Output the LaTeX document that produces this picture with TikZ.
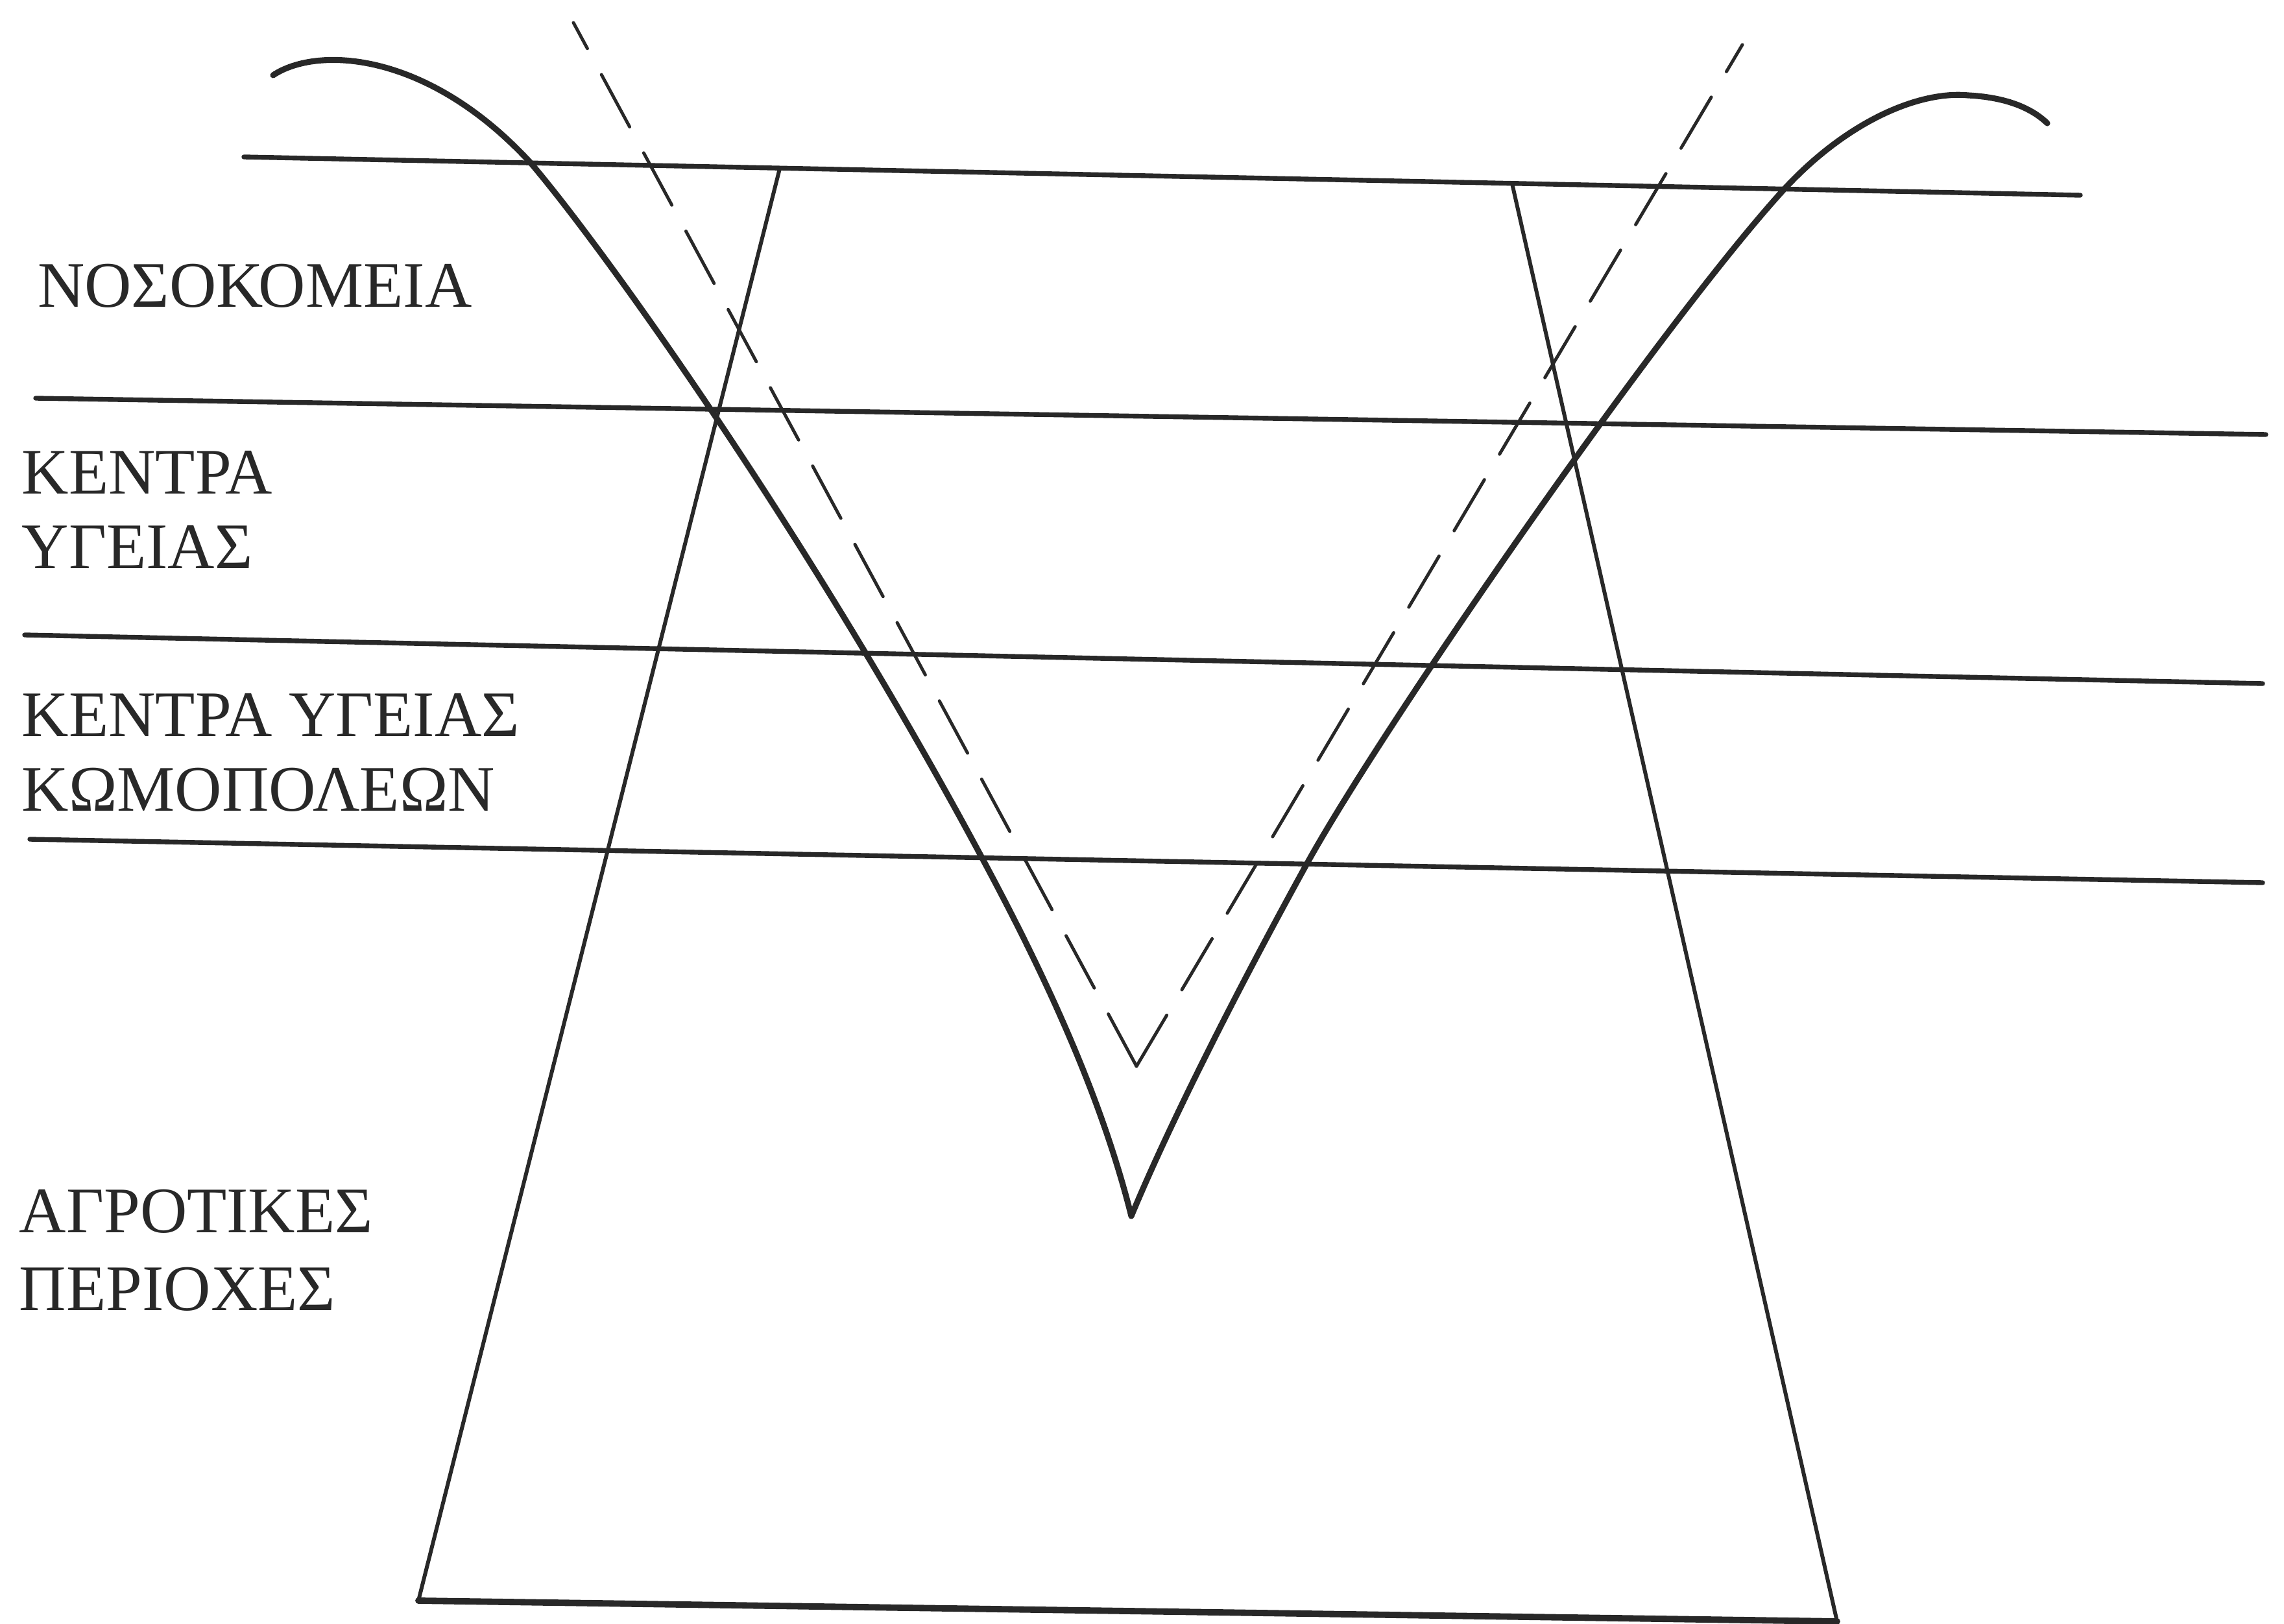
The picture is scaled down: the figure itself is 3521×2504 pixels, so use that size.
\documentclass[tikz,border=0pt]{standalone}
\usepackage{fontspec}
\setmainfont{Liberation Serif}
\definecolor{ink}{RGB}{40,40,40}
\begin{document}
\begin{tikzpicture}[x=0.01cm,y=-0.01cm,
  hline/.style={draw=ink,line width=2.1pt,line cap=round},
  sideline/.style={draw=ink,line width=1.7pt,line cap=round},
  baseline/.style={draw=ink,line width=2.8pt,line cap=round},
  bell/.style={draw=ink,line width=2.6pt,line cap=round,line join=round},
  dashv/.style={draw=ink,line width=1.4pt,line cap=round,dash pattern=on 26pt off 13pt},
  lbl/.style={anchor=base west,inner sep=0pt,outer sep=0pt,text=ink,font=\fontsize{28.5pt}{33pt}\selectfont}]
\useasboundingbox (0,0) rectangle (3521,2504);
% horizontal level lines
\coordinate (L1a) at (376,242);  \coordinate (L1b) at (3207,301);
\coordinate (L2a) at (55,614);   \coordinate (L2b) at (3493,670);
\coordinate (L3a) at (38,979);   \coordinate (L3b) at (3488,1054);
\coordinate (L4a) at (46,1294);  \coordinate (L4b) at (3488,1361);
\draw[hline] (L1a) -- (L1b);
\draw[hline] (L2a) -- (L2b);
\draw[hline] (L3a) -- (L3b);
\draw[hline] (L4a) -- (L4b);
% trapezoid
\coordinate (TL) at (1202,260);  \coordinate (TR) at (2331,283);
\coordinate (BL) at (645,2468);  \coordinate (BR) at (2832,2500);
\draw[sideline] (TL) -- (BL);
\draw[sideline] (TR) -- (BR);
\draw[baseline] (BL) -- (BR);
% dashed V
\coordinate (DT) at (1752,1644);
\coordinate (DL) at (884,35);
\coordinate (DR) at (2686,69);
\draw[dashv] (DT) -- (DL);
\draw[dashv] (DT) -- (DR);
% bell-shaped curve
\coordinate (C0) at (421,116);
\coordinate (C1) at (817,250);
\coordinate (C2) at (1514,1323);
\coordinate (CT) at (1744,1875);
\coordinate (C3) at (2014,1333);
\coordinate (C4) at (2752,290);
\coordinate (C5) at (3034,147);
\coordinate (C6) at (3156,190);
\draw[bell] (C0) .. controls (490,70) and (660,80) .. (C1)
  .. controls (930,382) and (1250,830) .. (C2)
  .. controls (1620,1520) and (1700,1700) .. (CT)
  .. controls (1800,1740) and (1900,1540) .. (C3)
  .. controls (2130,1122) and (2560,500) .. (C4)
  .. controls (2850,185) and (2960,140) .. (C5)
  .. controls (3090,150) and (3130,165) .. (C6);
% labels
\node[lbl] (nos) at (58,474) {ΝΟΣΟΚΟΜΕΙΑ};
\node[lbl] (ky1) at (34,762) {ΚΕΝΤΡΑ};
\node[lbl] (ky2) at (34,877) {ΥΓΕΙΑΣ};
\node[lbl] (kk1) at (34,1135) {ΚΕΝΤΡΑ ΥΓΕΙΑΣ};
\node[lbl] (kk2) at (34,1250) {ΚΩΜΟΠΟΛΕΩΝ};
\node[lbl] (ag1) at (30,1900) {ΑΓΡΟΤΙΚΕΣ};
\node[lbl] (ag2) at (30,2020) {ΠΕΡΙΟΧΕΣ};
\end{tikzpicture}
\end{document}
